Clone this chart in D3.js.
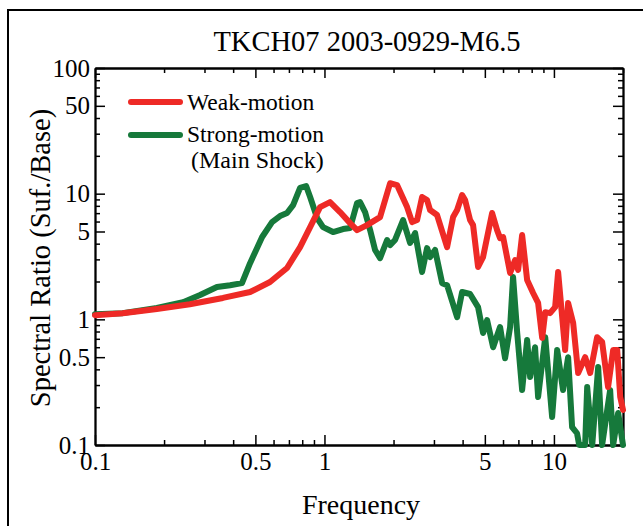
<!DOCTYPE html>
<html><head><meta charset="utf-8">
<script src="https://cdn.jsdelivr.net/npm/d3@7"></script>
<style>body{margin:0;background:#fff}svg{display:block}text{font-family:"Liberation Serif",Tinos,"Times New Roman",Times,"DejaVu Serif",serif;fill:#000}</style>
</head><body><svg id="c" width="643" height="526"></svg>
<script>
const titleText = "TKCH07 2003-0929-M6.5";
const xLabel = "Frequency";
const yLabel = "Spectral Ratio (Suf./Base)";
const seriesNames = ["Weak-motion", "Strong-motion"];
const seriesNote = "(Main Shock)";
const xMajorTicks = [0.1, 0.5, 1, 5, 10];
const yMajorTicks = [0.1, 0.5, 1, 5, 10, 50, 100];

const weakFreq = [0.100,0.132,0.186,0.259,0.361,0.474,0.579,0.687,0.783,0.866,0.957,1.057,1.169,1.293,1.387,1.533,1.747,1.932,2.072,2.291,2.410,2.533,2.663,2.800,2.886,3.096,3.423,3.636,3.785,3.980,4.100,4.311,4.443,4.671,4.911,5.378,5.654,5.825,6.006,6.442,6.773,6.982,7.268,7.642,8.115,8.532,8.887,9.164,9.618,10.12,10.43,11.19,11.53,12.13,12.75,13.68,14.39,15.42,16.22,17.22,18.12,18.87,19.45,20.0];
const weakRatio = [1.08,1.12,1.21,1.32,1.48,1.65,1.98,2.56,3.76,5.42,7.82,8.57,7.14,5.83,5.13,5.62,6.51,12.1,11.7,7.82,5.94,6.17,9.40,8.89,7.41,6.76,3.76,6.51,7.41,9.75,8.89,6.17,5.62,2.61,3.13,7.01,5.13,4.43,4.52,2.34,2.96,2.47,4.69,2.06,1.62,1.35,0.71,1.14,1.12,1.25,2.38,0.57,1.35,0.935,0.374,0.50,0.374,0.72,0.66,0.289,0.57,0.57,0.241,0.19];

const strongFreq = [0.100,0.132,0.186,0.242,0.287,0.340,0.388,0.437,0.474,0.535,0.591,0.640,0.687,0.730,0.783,0.832,0.866,0.929,0.986,1.090,1.205,1.293,1.387,1.429,1.503,1.581,1.662,1.747,1.875,1.932,2.031,2.201,2.361,2.483,2.663,2.800,2.886,3.035,3.258,3.423,3.785,3.980,4.311,4.671,4.911,5.114,5.432,5.825,6.124,6.442,6.637,6.918,7.268,7.642,7.876,8.276,8.532,9.164,9.82,10.33,10.96,11.53,12.00,12.61,12.88,13.68,13.96,14.69,15.59,16.22,17.58,18.12,19.05,20.0];
const strongRatio = [1.10,1.12,1.23,1.37,1.56,1.81,1.87,1.94,2.80,4.52,5.94,6.63,7.01,8.11,11.1,11.5,9.40,6.40,5.42,4.95,5.23,5.33,8.42,8.57,7.14,5.13,3.56,3.07,4.28,3.90,4.28,6.17,4.05,4.86,2.38,3.69,3.13,3.56,1.94,1.87,1.04,1.65,1.59,1.25,0.778,0.987,0.60,0.868,0.49,0.868,2.17,0.778,0.274,0.684,0.348,0.60,0.241,0.72,0.167,0.57,0.274,0.50,0.139,0.124,0.08,0.08,0.289,0.08,0.418,0.08,0.274,0.08,0.18,0.08];

const colors = ["#ee2a26", "#16793b"];

const svg = d3.select("#c");
const L = 95, R = 623, T = 68, B = 445;
const x = d3.scaleLog().domain([0.1, 20]).range([L, R]);
const y = d3.scaleLog().domain([0.1, 100]).range([B, T]).clamp(true);

// outer frame
svg.append("rect").attr("x", 8).attr("y", 10).attr("width", 660).attr("height", 540)
  .attr("fill", "none").attr("stroke", "#000").attr("stroke-width", 2);

svg.append("text").attr("x", 367).attr("y", 51).attr("text-anchor", "middle")
  .style("font-size", "28.5px").text(titleText);

const xAll = x.ticks().filter(v => v >= 0.1 && v <= 20);
const xMinor = xAll.filter(v => !xMajorTicks.some(m => Math.abs(m - v) < 1e-9));
const yAll = y.ticks();
const yMinor = yAll.filter(v => !yMajorTicks.some(m => Math.abs(m - v) < 1e-9));
const fmt = d => String(+d.toPrecision(3));

function styleAxis(g, fs) {
  g.attr("font-family", null);
  g.selectAll("path.domain").attr("stroke", "#000").attr("stroke-width", 1.8);
  g.selectAll(".tick line").attr("stroke", "#000").attr("stroke-width", 1.5);
  g.selectAll("text").style("font-size", fs).attr("fill", "#000");
}
const MJ = 10, MN = 5;
// bottom
let g = svg.append("g").attr("transform", `translate(0,${B})`)
  .call(d3.axisBottom(x).tickValues(xMajorTicks).tickSize(-MJ).tickSizeOuter(0).tickPadding(7).tickFormat(fmt));
styleAxis(g, "25px");
g = svg.append("g").attr("transform", `translate(0,${B})`)
  .call(d3.axisBottom(x).tickValues(xMinor).tickSize(-MN).tickSizeOuter(0).tickFormat(""));
styleAxis(g, "25px");
// top
g = svg.append("g").attr("transform", `translate(0,${T})`)
  .call(d3.axisTop(x).tickValues(xMajorTicks).tickSize(-MJ).tickSizeOuter(0).tickFormat(""));
styleAxis(g, "25px");
g = svg.append("g").attr("transform", `translate(0,${T})`)
  .call(d3.axisTop(x).tickValues(xMinor).tickSize(-MN).tickSizeOuter(0).tickFormat(""));
styleAxis(g, "25px");
// left
g = svg.append("g").attr("transform", `translate(${L},0)`)
  .call(d3.axisLeft(y).tickValues(yMajorTicks).tickSize(-MJ).tickSizeOuter(0).tickPadding(5).tickFormat(fmt));
styleAxis(g, "25px");
g = svg.append("g").attr("transform", `translate(${L},0)`)
  .call(d3.axisLeft(y).tickValues(yMinor).tickSize(-MN).tickSizeOuter(0).tickFormat(""));
styleAxis(g, "25px");
// right
g = svg.append("g").attr("transform", `translate(${R},0)`)
  .call(d3.axisRight(y).tickValues(yMajorTicks).tickSize(-MJ).tickSizeOuter(0).tickFormat(""));
styleAxis(g, "25px");
g = svg.append("g").attr("transform", `translate(${R},0)`)
  .call(d3.axisRight(y).tickValues(yMinor).tickSize(-MN).tickSizeOuter(0).tickFormat(""));
styleAxis(g, "25px");

// axis titles
svg.append("text").attr("x", 361).attr("y", 514).attr("text-anchor", "middle")
  .style("font-size", "28px").text(xLabel);
svg.append("text").attr("transform", "translate(50,258) rotate(-90)").attr("text-anchor", "middle")
  .style("font-size", "28.5px").text(yLabel);

// lines
const line = d3.line().x(d => x(d[0])).y(d => y(d[1]));
const series = [
  d3.zip(strongFreq, strongRatio),
  d3.zip(weakFreq, weakRatio)
];
const sColors = [colors[1], colors[0]];
svg.append("clipPath").attr("id", "pc").append("rect")
  .attr("x", L - 3).attr("y", T).attr("width", R - L + 6).attr("height", B - T + 4);
series.forEach((s, i) => {
  svg.append("path").datum(s).attr("d", line).attr("fill", "none")
    .attr("stroke", sColors[i]).attr("stroke-width", 6)
    .attr("stroke-linejoin", "round").attr("stroke-linecap", "round")
    .attr("clip-path", "url(#pc)");
});

// legend
const leg = [{c: colors[0], t: seriesNames[0], y: 102, ty: 110}, {c: colors[1], t: seriesNames[1], y: 135, ty: 142}];
leg.forEach(d => {
  svg.append("line").attr("x1", 131).attr("x2", 180).attr("y1", d.y).attr("y2", d.y)
    .attr("stroke", d.c).attr("stroke-width", 6).attr("stroke-linecap", "round");
  svg.append("text").attr("x", 187).attr("y", d.ty).style("font-size", "23.5px").text(d.t);
});
svg.append("text").attr("x", 191).attr("y", 168).style("font-size", "24px").text(seriesNote);
</script></body></html>
